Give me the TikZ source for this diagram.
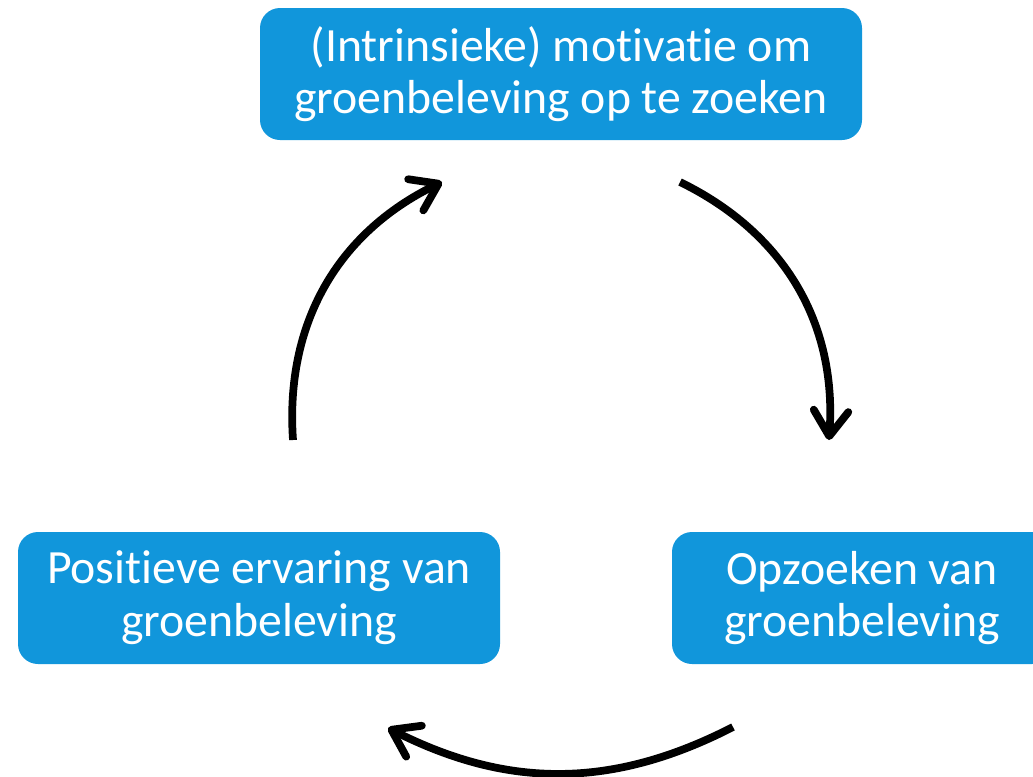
\documentclass[tikz,border=0pt]{standalone}
\usepackage{fontspec}
\setmainfont{Carlito}[Ligatures={NoCommon}]
\usetikzlibrary{arrows.meta}
\definecolor{boxblue}{RGB}{17,150,219}
\tikzset{
  box/.style={rectangle, rounded corners=15pt, fill=boxblue, text=white, align=center, inner sep=0pt, minimum height=99pt,
    font=\fontsize{35.8pt}{39.5pt}\selectfont},
  cyc/.style={line width=5.8pt, -{Straight Barb[length=19pt,width=26pt,round]}}
}
\begin{document}
\begin{tikzpicture}[x=0.75pt,y=-0.75pt]
\clip (0,0) rectangle (1033,776);
\useasboundingbox (0,0) rectangle (1033,776);
\node[box, minimum width=451.5pt] (mot) at (561,74) {(Intrinsieke) motivatie om\\groenbeleving op te zoeken};
\node[box, minimum width=361.5pt] (pos) at (259,598) {Positieve ervaring van\\groenbeleving};
\node[box, minimum width=285pt] (opz) at (862,598) {Opzoeken van\\groenbeleving};
\coordinate (a1s) at (293,440);
\coordinate (a1e) at (442,182);
\coordinate (a2s) at (680,182);
\coordinate (a2e) at (829,440);
\coordinate (a3s) at (733,727);
\coordinate (a3e) at (388,728);
\draw[cyc] (a1s) to[bend left=34] (a1e);
\draw[cyc] (a2s) to[bend left=34] (a2e);
\draw[cyc] (a3s) to[bend left=27] (a3e);
\end{tikzpicture}
\end{document}
